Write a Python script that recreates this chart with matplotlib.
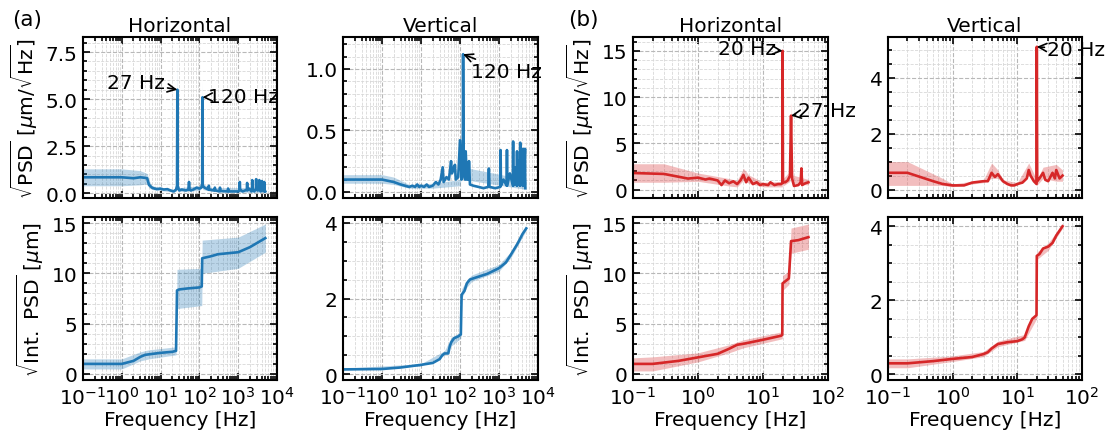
import numpy as np
import matplotlib
matplotlib.use("Agg")
import matplotlib.pyplot as plt
from matplotlib.ticker import AutoMinorLocator, LogLocator, NullFormatter, MultipleLocator

plt.rcParams['font.family'] = ['DejaVu Sans']
plt.rcParams['mathtext.fontset'] = 'dejavusans'
plt.rcParams['font.size'] = 14.5

BLUE = '#1f77b4'
RED = '#d62728'

# ---- (a) top, horizontal sqrt(PSD) ----
a_h_f = [0.1, 0.3, 1, 2, 3, 4, 4.5, 5, 6, 7,
         8, 10, 12, 15, 18, 22, 25, 26.5, 27, 27.5,
         30, 35, 45, 52, 54, 56, 60, 70, 85, 100,
         112, 118, 120, 122, 135, 170, 175, 180, 240, 250,
         260, 330, 340, 350, 530, 550, 570, 800, 1000, 1080,
         1100, 1120, 1300, 1500, 1680, 1700, 1720, 1900, 2200, 2280,
         2300, 2320, 2600, 2880, 2900, 2920, 3200, 3480, 3500, 3520,
         3800, 4080, 4100, 4120, 4400, 4680, 4700, 4720, 5000]
a_h_psd = [0.85, 0.85, 0.85, 0.8, 0.85, 0.82, 0.8, 0.45, 0.3, 0.25,
           0.22, 0.25, 0.2, 0.22, 0.15, 0.1, 0.2, 0.4, 5.5, 0.4,
           0.15, 0.2, 0.15, 0.2, 0.6, 0.2, 0.15, 0.2, 0.3, 0.25,
           0.3, 0.5, 5.1, 0.4, 0.3, 0.2, 0.4, 0.2, 0.15, 0.3,
           0.15, 0.1, 0.3, 0.12, 0.1, 0.25, 0.1, 0.1, 0.1, 0.15,
           0.6, 0.2, 0.1, 0.15, 0.2, 0.55, 0.15, 0.25, 0.1, 0.2,
           0.7, 0.2, 0.1, 0.25, 0.75, 0.2, 0.15, 0.2, 0.7, 0.2,
           0.1, 0.2, 0.65, 0.2, 0.15, 0.1, 0.6, 0.2, 0.1]
a_h_band_f = [0.1, 1, 3, 4.5, 5, 6, 10, 20, 25, 26.5, 27, 27.5, 30, 100, 118, 120, 122, 200, 1000, 5000]
a_h_band_lo = [0.4, 0.4, 0.45, 0.5, 0.3, 0.2, 0.15, 0.07, 0.1, 0.2, 4.5, 0.2, 0.1, 0.15, 0.3, 4.5, 0.2, 0.1, 0.05, 0.05]
a_h_band_hi = [1.3, 1.3, 1.2, 1.05, 0.7, 0.4, 0.3, 0.2, 0.3, 0.6, 8.0, 0.6, 0.3, 0.4, 0.7, 6.0, 0.5, 0.3, 0.3, 0.35]

# ---- (a) top, vertical sqrt(PSD) ----
a_v_f = [0.1, 0.3, 1, 2, 3, 5, 6, 7, 8, 9,
         10, 12, 14, 16, 20, 24, 28, 32, 36, 38,
         45, 52, 59, 62, 70, 74, 78, 90, 100, 110,
         118, 120, 125, 135, 140, 150, 165, 170, 180, 220,
         300, 400, 530, 550, 570, 800, 1080, 1100, 1120, 1300,
         1580, 1600, 1620, 1900, 2280, 2300, 2320, 2600, 2880, 2900,
         2920, 3200, 3480, 3500, 3520, 3800, 4180, 4200, 4220, 4650,
         4700]
a_v_psd = [0.1, 0.1, 0.1, 0.08, 0.06, 0.04, 0.05, 0.04, 0.06, 0.04,
           0.05, 0.04, 0.06, 0.04, 0.05, 0.08, 0.06, 0.1, 0.2, 0.08,
           0.12, 0.1, 0.25, 0.15, 0.2, 0.22, 0.1, 0.12, 0.42, 0.1,
           0.3, 1.12, 0.15, 0.1, 0.33, 0.1, 0.1, 0.25, 0.06, 0.05,
           0.04, 0.03, 0.04, 0.19, 0.04, 0.03, 0.04, 0.34, 0.05, 0.1,
           0.05, 0.34, 0.05, 0.15, 0.05, 0.41, 0.05, 0.2, 0.05, 0.33,
           0.05, 0.25, 0.05, 0.4, 0.05, 0.3, 0.05, 0.35, 0.05, 0.35,
           0.03]
a_v_band_f = [0.1, 1, 2, 5, 20, 100, 118, 120, 125, 5000]
a_v_band_lo = [0.07, 0.07, 0.06, 0.03, 0.03, 0.05, 0.2, 1.0, 0.1, 0.02]
a_v_band_hi = [0.14, 0.14, 0.12, 0.06, 0.07, 0.1, 0.45, 1.2, 0.2, 0.1]

# ---- (b) top, horizontal sqrt(PSD) ----
b_h_f = [0.1, 0.3, 0.5, 0.7, 1.0, 1.3, 1.5, 2, 2.3, 2.6,
         3, 3.5, 4, 4.5, 5, 5.5, 6, 7, 8, 9,
         10, 12, 13, 15, 17, 19, 19.8, 20, 20.3, 22,
         24, 26, 27, 28, 30, 35, 38, 39, 40, 45, 50]
b_h_psd = [1.8, 1.7, 1.4, 1.2, 1.3, 1.1, 1.2, 1.0, 0.5, 1.0,
           0.7, 0.9, 0.6, 1.0, 1.6, 0.8, 1.3, 0.6, 0.8, 0.5,
           0.6, 0.5, 0.8, 0.5, 0.6, 0.6, 0.7, 15.0, 0.8, 0.8,
           1.0, 1.5, 8.0, 1.2, 0.4, 0.5, 0.8, 2.3, 0.5, 0.7, 0.8]
b_h_band_f = [0.1, 0.3, 1, 3, 4, 5, 6, 10, 19.8, 20, 20.3, 26, 27, 28, 50]
b_h_band_lo = [0.8, 0.8, 0.9, 0.4, 0.3, 1.0, 0.7, 0.3, 0.3, 12.0, 0.4, 0.9, 6.0, 0.7, 0.5]
b_h_band_hi = [2.8, 2.8, 1.8, 1.2, 1.0, 2.3, 1.6, 0.8, 0.9, 15.2, 1.2, 2.0, 9.5, 1.6, 1.1]

# ---- (b) top, vertical sqrt(PSD) ----
b_v_f = [0.1, 0.2, 0.5, 0.7, 1, 1.5, 2, 3, 3.5, 4,
         4.5, 5, 6, 7, 8, 9, 10, 12, 14, 15,
         16, 18, 19.8, 20, 20.3, 22, 25, 27, 30, 35,
         38, 40, 45, 50]
b_v_psd = [0.6, 0.6, 0.3, 0.2, 0.15, 0.15, 0.25, 0.3, 0.3, 0.6,
           0.45, 0.55, 0.3, 0.2, 0.15, 0.15, 0.2, 0.25, 0.4, 0.7,
           0.5, 0.3, 0.2, 5.1, 0.3, 0.4, 0.6, 0.35, 0.3, 0.6,
           0.4, 0.7, 0.4, 0.5]
b_v_band_f = [0.1, 0.2, 0.7, 1, 2, 3, 4, 5, 6, 10, 15, 20, 25, 40, 50]
b_v_band_lo = [0.15, 0.15, 0.15, 0.1, 0.2, 0.25, 0.4, 0.4, 0.25, 0.15, 0.5, 0.15, 0.4, 0.3, 0.3]
b_v_band_hi = [1.0, 1.0, 0.4, 0.2, 0.3, 0.35, 0.95, 0.7, 0.35, 0.25, 0.95, 0.35, 0.8, 0.9, 0.7]

# ---- (a) bottom, integrated ----
ai_h_f = [0.1, 1, 2, 3, 4, 5, 10, 20, 25, 26.5,
          30, 50, 100, 115, 118, 200, 300, 1000, 2000, 3000, 5000]
ai_h_val = [1.0, 1.0, 1.3, 1.7, 1.9, 1.95, 2.1, 2.2, 2.3, 8.3,
            8.4, 8.5, 8.6, 8.7, 11.5, 11.7, 11.9, 12.1, 12.6, 13.0, 13.5]
ai_h_band_f = [0.1, 1, 3, 5, 25, 26.5, 115, 118, 1000, 5000]
ai_h_band_lo = [0.5, 0.5, 1.3, 1.5, 1.9, 6.5, 6.8, 10.0, 10.5, 12.1]
ai_h_band_hi = [1.5, 1.5, 2.2, 2.4, 2.7, 10.4, 10.5, 13.3, 13.6, 14.9]

ai_v_f = [0.1, 1, 3, 10, 20, 30, 35, 40, 50, 55,
          60, 70, 90, 105, 110, 130, 150, 180, 250, 500,
          1000, 1500, 2000, 3000, 4000, 5000]
ai_v_val = [0.13, 0.14, 0.18, 0.25, 0.3, 0.4, 0.5, 0.55, 0.55, 0.75,
            0.85, 0.95, 1.0, 1.05, 2.1, 2.2, 2.4, 2.5, 2.55, 2.65,
            2.8, 2.95, 3.15, 3.45, 3.7, 3.85]
ai_v_band_f = [0.1, 10, 40, 60, 105, 110, 150, 200, 1000, 2000, 5000]
ai_v_band_lo = [0.11, 0.22, 0.5, 0.75, 0.95, 2.0, 2.3, 2.45, 2.72, 3.07, 3.8]
ai_v_band_hi = [0.16, 0.28, 0.62, 0.98, 1.12, 2.25, 2.5, 2.62, 2.9, 3.23, 3.9]

# ---- (b) bottom, integrated ----
bi_h_f = [0.1, 0.2, 0.5, 1, 2, 3, 4, 5, 10, 19,
          19.8, 20, 24, 25, 27, 35, 50]
bi_h_val = [1.0, 1.0, 1.3, 1.65, 2.0, 2.5, 2.9, 3.0, 3.4, 3.8,
            3.9, 9.0, 9.4, 9.5, 13.2, 13.3, 13.6]
bi_h_band_f = [0.1, 0.2, 1, 3, 5, 19.8, 20, 25, 27, 50]
bi_h_band_lo = [0.3, 0.3, 1.2, 2.1, 2.6, 3.5, 8.3, 8.9, 12.0, 12.4]
bi_h_band_hi = [1.6, 1.7, 2.1, 2.9, 3.4, 4.2, 9.8, 10.2, 14.5, 14.9]

bi_v_f = [0.1, 0.2, 0.5, 1, 2, 3, 3.5, 4, 5, 7,
          10, 12, 13, 15, 17, 19.8, 20, 22, 25, 30,
          35, 40, 50]
bi_v_val = [0.3, 0.3, 0.36, 0.42, 0.47, 0.55, 0.6, 0.7, 0.82, 0.87,
            0.9, 0.95, 1.0, 1.3, 1.5, 1.6, 3.2, 3.25, 3.4, 3.45,
            3.55, 3.75, 4.0]
bi_v_band_f = [0.1, 0.2, 1, 3, 5, 13, 19.8, 20, 30, 50]
bi_v_band_lo = [0.18, 0.18, 0.35, 0.48, 0.75, 0.92, 1.5, 3.1, 3.35, 3.95]
bi_v_band_hi = [0.42, 0.42, 0.5, 0.62, 0.9, 1.08, 1.7, 3.3, 3.55, 4.05]

psd_label = r'$\sqrt{\mathrm{PSD}}$ [$\mu$m/$\sqrt{\mathrm{Hz}}$]'
int_label = r'$\sqrt{\mathrm{Int.\ PSD}}$ [$\mu$m]'

W, H = 1105, 431
fig = plt.figure(figsize=(W / 100, H / 100), dpi=100)


def make_ax(left, right, top, bottom):
    return fig.add_axes([left / W, 1 - bottom / H, (right - left) / W, (bottom - top) / H])


def style(ax, xmax, ylim, ymajor, show_x):
    ax.set_xscale('log')
    ax.set_xlim(0.1, xmax)
    ax.set_ylim(*ylim)
    ax.yaxis.set_major_locator(MultipleLocator(ymajor))
    ax.yaxis.set_minor_locator(AutoMinorLocator())
    ax.xaxis.set_major_locator(LogLocator(base=10, numticks=10))
    ax.xaxis.set_minor_locator(LogLocator(base=10, subs=np.arange(2, 10), numticks=10))
    ax.xaxis.set_minor_formatter(NullFormatter())
    ax.tick_params(which='both', direction='in', top=True, right=True, width=1.2)
    ax.tick_params(which='major', length=5, pad=4)
    ax.tick_params(which='minor', length=3)
    for s in ax.spines.values():
        s.set_linewidth(1.5)
    ax.grid(True, which='major', ls='--', color='#b8b8b8', lw=0.8)
    ax.grid(True, which='minor', ls='--', color='#d8d8d8', lw=0.6)
    ax.set_axisbelow(True)
    if show_x:
        ax.set_xlabel('Frequency [Hz]', labelpad=1.5)
    else:
        ax.tick_params(labelbottom=False)


def draw(ax, f, y, bf, blo, bhi, color):
    ax.fill_between(bf, blo, bhi, color=color, alpha=0.3, lw=0)
    ax.plot(f, y, color=color, lw=1.9)


def note(ax, text, xy, xytext, ha):
    ax.annotate(text, xy=xy, xytext=xytext, ha=ha, va='center',
                arrowprops=dict(arrowstyle='->', lw=1.2, shrinkA=0, shrinkB=0))


cols = [(83, 277), (343, 538), (633, 828), (888, 1082)]
top_rows = (38, 199)
bot_rows = (218, 381)

# top row
ax1 = make_ax(cols[0][0], cols[0][1], *top_rows)
draw(ax1, a_h_f, a_h_psd, a_h_band_f, a_h_band_lo, a_h_band_hi, BLUE)
style(ax1, 1e4, (-0.25, 8.3), 2.5, False)
ax1.set_ylabel(psd_label)
ax1.set_title('Horizontal', fontsize=14.5, pad=4)
note(ax1, '27 Hz', (27, 5.5), (2.3, 5.9), 'center')
note(ax1, '120 Hz', (120, 5.1), (170, 5.15), 'left')

ax2 = make_ax(cols[1][0], cols[1][1], *top_rows)
draw(ax2, a_v_f, a_v_psd, a_v_band_f, a_v_band_lo, a_v_band_hi, BLUE)
style(ax2, 1e4, (-0.05, 1.26), 0.5, False)
ax2.set_title('Vertical', fontsize=14.5, pad=4)
note(ax2, '120 Hz', (120, 1.12), (190, 0.98), 'left')

ax3 = make_ax(cols[2][0], cols[2][1], *top_rows)
draw(ax3, b_h_f, b_h_psd, b_h_band_f, b_h_band_lo, b_h_band_hi, RED)
style(ax3, 100, (-0.9, 16.5), 5, False)
ax3.set_ylabel(psd_label)
ax3.set_title('Horizontal', fontsize=14.5, pad=4)
note(ax3, '20 Hz', (20, 15), (5.6, 15.3), 'center')
note(ax3, '27 Hz', (27, 8.0), (35, 8.6), 'left')

ax4 = make_ax(cols[3][0], cols[3][1], *top_rows)
draw(ax4, b_v_f, b_v_psd, b_v_band_f, b_v_band_lo, b_v_band_hi, RED)
style(ax4, 100, (-0.3, 5.45), 2, False)
ax4.set_title('Vertical', fontsize=14.5, pad=4)
note(ax4, '20 Hz', (20, 5.1), (29, 5.0), 'left')

# bottom row
ax5 = make_ax(cols[0][0], cols[0][1], *bot_rows)
draw(ax5, ai_h_f, ai_h_val, ai_h_band_f, ai_h_band_lo, ai_h_band_hi, BLUE)
style(ax5, 1e4, (-0.6, 15.6), 5, True)
ax5.set_ylabel(int_label)

ax6 = make_ax(cols[1][0], cols[1][1], *bot_rows)
draw(ax6, ai_v_f, ai_v_val, ai_v_band_f, ai_v_band_lo, ai_v_band_hi, BLUE)
style(ax6, 1e4, (-0.15, 4.15), 2, True)

ax7 = make_ax(cols[2][0], cols[2][1], *bot_rows)
draw(ax7, bi_h_f, bi_h_val, bi_h_band_f, bi_h_band_lo, bi_h_band_hi, RED)
style(ax7, 100, (-0.6, 15.6), 5, True)
ax7.set_ylabel(int_label)

ax8 = make_ax(cols[3][0], cols[3][1], *bot_rows)
draw(ax8, bi_v_f, bi_v_val, bi_v_band_f, bi_v_band_lo, bi_v_band_hi, RED)
style(ax8, 100, (-0.15, 4.25), 2, True)

fig.text(12 / W, 1 - 20 / H, '(a)', fontsize=15.5, va='center', ha='left')
fig.text(568 / W, 1 - 20 / H, '(b)', fontsize=15.5, va='center', ha='left')

fig.savefig('out.png', dpi=100)
